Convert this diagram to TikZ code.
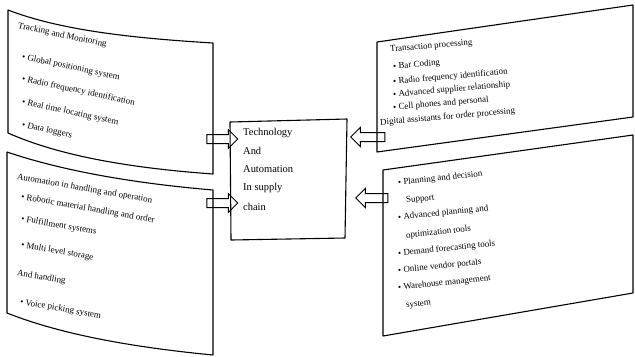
\documentclass[tikz,border=0pt]{standalone}
\usepackage{fontspec}
\setmainfont{Liberation Serif}
\usetikzlibrary{shapes.arrows}
\begin{document}
\begin{tikzpicture}[x=1bp,y=-1bp,
  frame/.style={draw=black,line width=1.1bp,line join=round},
  sidetxt/.style={anchor=west,inner sep=0pt,font=\fontsize{9}{10}\selectfont},
  midtxt/.style={anchor=west,inner sep=0pt,font=\fontsize{10.5}{12}\selectfont},
  blockarrow/.style={draw=black,line width=1bp,single arrow,inner sep=4bp,
    single arrow head extend=5bp,minimum height=31bp}]
\useasboundingbox (0,0) rectangle (635,356);
% corner coordinates
\coordinate (tlA) at (8,10);   \coordinate (tlB) at (213,43);
\coordinate (tlC) at (213,174);\coordinate (tlD) at (8,133);
\coordinate (blA) at (7,152);  \coordinate (blB) at (213,190);
\coordinate (blC) at (213,355);\coordinate (blD) at (7,313);
\coordinate (trA) at (377,42); \coordinate (trB) at (633,5);
\coordinate (trC) at (633,117);\coordinate (trD) at (377,152);
\coordinate (brA) at (383,170);\coordinate (brB) at (633,135);
\coordinate (brC) at (633,293);\coordinate (brD) at (383,336);
\coordinate (cA) at (230,122); \coordinate (cB) at (347,119);
\coordinate (cC) at (345,238); \coordinate (cD) at (231,240);
% boxes
\draw[frame] (tlA) .. controls (60,30) and (130,38) .. (tlB) -- (tlC)
  .. controls (130,168) and (60,156) .. (tlD) -- cycle;
\draw[frame] (blA) .. controls (60,170) and (130,183) .. (blB) -- (blC)
  .. controls (130,347) and (60,334) .. (blD) -- cycle;
\draw[frame] (trA) -- (trB) -- (trC) -- (trD) -- cycle;
\draw[frame] (brA) -- (brB) -- (brC) -- (brD) -- cycle;
\draw[frame] (cA) -- (cB) -- (cC) -- (cD) -- cycle;
% top-left texts
\begin{scope}[every node/.style={sidetxt,rotate=-12}]
\node (t1) at (18,26) {Tracking and Monitoring};
\node (t2) at (22,57) {• Global positioning system};
\node (t3) at (22,79) {• Radio frequency identification};
\node (t4) at (22,102) {• Real time locating system};
\node (t5) at (22,125) {• Data loggers};
\end{scope}
% bottom-left texts
\begin{scope}[every node/.style={sidetxt,rotate=-10}]
\node (b1) at (17,177) {Automation in handling and operation};
\node (b2) at (21,197) {• Robotic material handling and order};
\node (b3) at (21,219) {• Fulfillment systems};
\node (b4) at (21,245) {• Multi level storage};
\node (b5) at (17,273) {And handling};
\node (b6) at (20,302) {• Voice picking system};
\end{scope}
% top-right texts
\begin{scope}[every node/.style={sidetxt,rotate=5}]
\node (r1) at (390,50) {Transaction processing};
\node (r2) at (393,67) {• Bar Coding};
\node (r3) at (393,82) {• Radio frequency identification};
\node (r4) at (393,95) {• Advanced supplier relationship};
\node (r5) at (393,108) {• Cell phones and personal};
\node (r6) at (380,123) {Digital assistants for order processing};
\end{scope}
% bottom-right texts
\begin{scope}[every node/.style={sidetxt,rotate=6}]
\node (s1) at (398,183) {• Planning and decision};
\node (s2) at (406,201) {Support};
\node (s3) at (398,218) {• Advanced planning and};
\node (s4) at (406,236) {optimization tools};
\node (s5) at (398,254) {• Demand forecasting tools};
\node (s6) at (398,271) {• Online vendor portals};
\node (s7) at (398,288) {• Warehouse management};
\node (s8) at (406,306) {system};
\end{scope}
% centre texts
\node[midtxt] (c1) at (243,133) {Technology};
\node[midtxt] (c2) at (243,151) {And};
\node[midtxt] (c3) at (243,169) {Automation};
\node[midtxt] (c4) at (243,188) {In supply};
\node[midtxt] (c5) at (243,207) {chain};
% block arrows
\node[blockarrow] (a1) at (220,139) {};
\node[blockarrow] (a2) at (220,203) {};
\node[blockarrow,shape border rotate=180,minimum height=34bp] (a3) at (370,137) {};
\node[blockarrow,shape border rotate=180,minimum height=32bp] (a4) at (374,198) {};
\end{tikzpicture}
\end{document}
